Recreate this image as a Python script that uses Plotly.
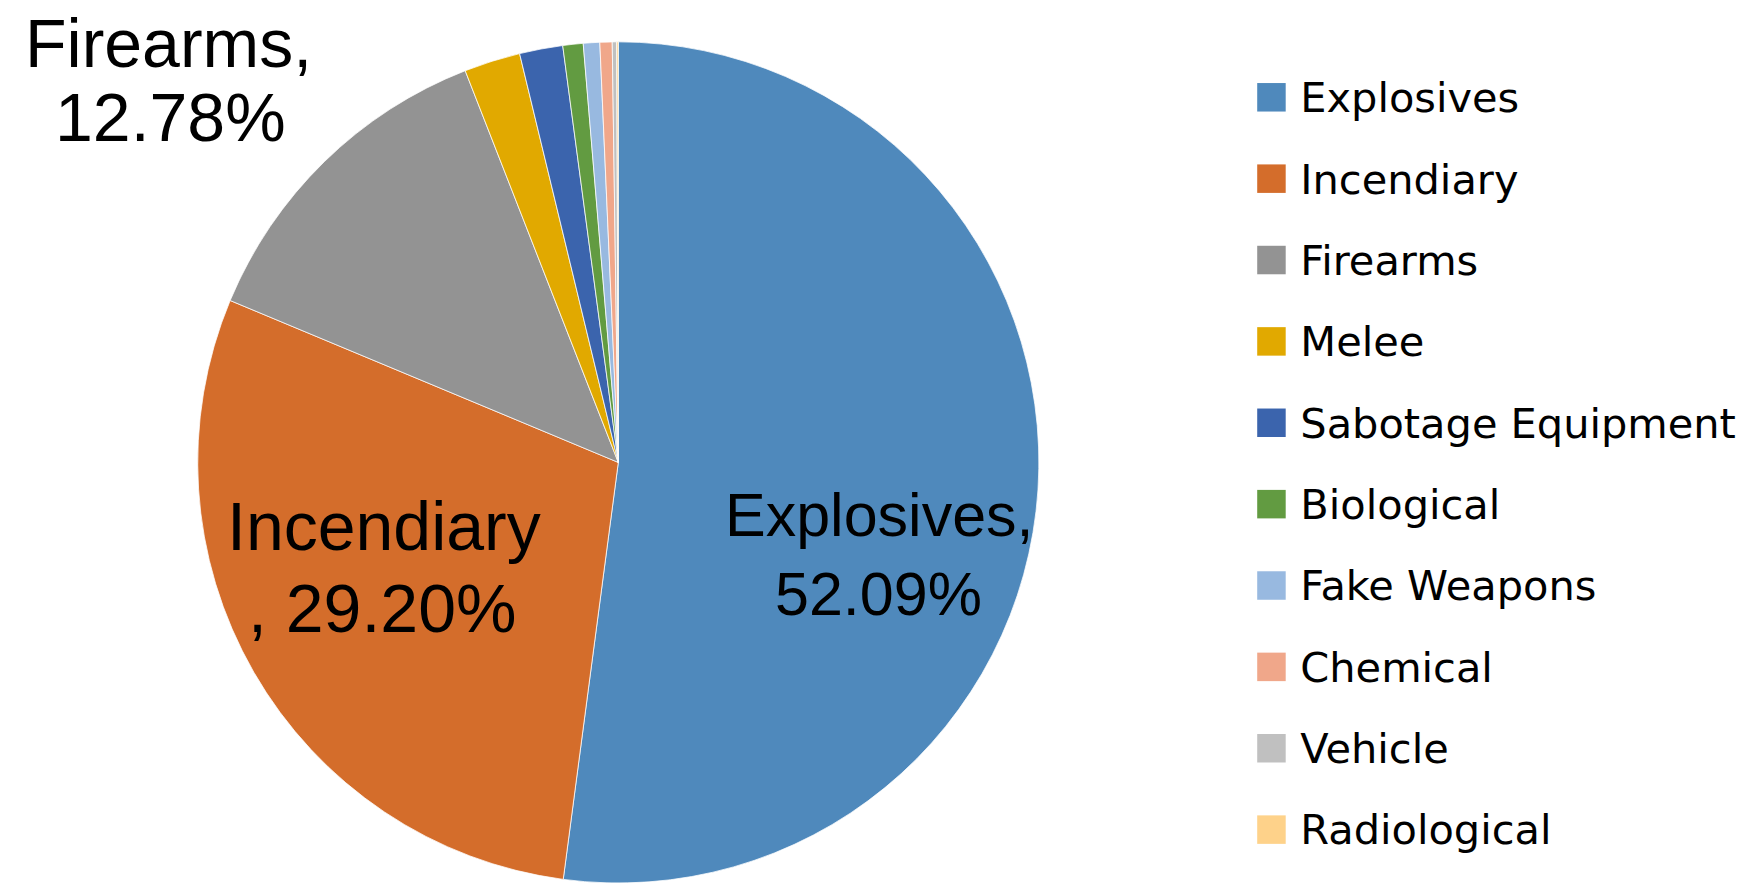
import plotly.graph_objects as go

# Attack weapon categories and their share of incidents (%)
weapons = ["Explosives", "Incendiary", "Firearms", "Melee", "Sabotage Equipment",
           "Biological", "Fake Weapons", "Chemical", "Vehicle", "Radiological"]
shares = [52.09, 29.20, 12.78, 2.16, 1.66, 0.78, 0.63, 0.47, 0.17, 0.06]
colors = ["#4F89BC", "#D46D2B", "#939393", "#E1A900", "#3B64AD",
          "#629B41", "#98B9E0", "#F0A78A", "#C0C0C0", "#FED28A"]

W, H = 1753, 883
total = sum(shares)

fig = go.Figure()

fig.add_trace(go.Pie(
    labels=weapons,
    values=shares,
    sort=False,
    direction="clockwise",
    rotation=0,
    marker=dict(colors=colors, line=dict(color="rgba(255,255,255,0.75)", width=1)),
    textinfo="none",
    showlegend=False,
    domain=dict(x=[0.11278, 0.59264], y=[0.0, 0.9526]),
))

# Legend column: colour swatches and names on their own category axes
fig.add_trace(go.Scatter(
    x=[0] * len(weapons), y=weapons, mode="markers",
    marker=dict(symbol="square", size=28.5, color=colors, line=dict(width=0)),
    cliponaxis=False, showlegend=False, hoverinfo="skip",
))
fig.add_trace(go.Scatter(
    x=[0.06] * len(weapons), y=weapons, mode="text", text=weapons,
    textposition="middle right",
    textfont=dict(family="DejaVu Sans", size=41.5, color="#000000"),
    cliponaxis=False, showlegend=False, hoverinfo="skip",
    yaxis="y2",
))


def pct(name):
    return f"{shares[weapons.index(name)] / total * 100:.2f}%"


# Slice labels (two lines each), centre x and text-middle y in pixels
label_font = dict(family="Liberation Sans, Arial", size=68, color="#000000")
expl_font = dict(family="Liberation Sans, Arial", size=61, color="#000000")
slice_labels = [
    ("Firearms,", 168, 43, label_font),
    (pct("Firearms"), 170, 117, label_font),
    ("Incendiary", 384, 526, label_font),
    (", " + pct("Incendiary"), 382, 608, label_font),
    ("Explosives,", 880, 515, expl_font),
    (pct("Explosives"), 878, 594, expl_font),
]
annotations = [
    dict(text=t, x=px / W, y=1 - py / H, xref="paper", yref="paper",
         xanchor="center", yanchor="middle", showarrow=False, font=f, borderpad=0)
    for t, px, py, f in slice_labels
]

cat_axis = dict(type="category", categoryarray=weapons,
                range=[len(weapons) - 0.5, -0.5], visible=False, fixedrange=True)

fig.update_layout(
    width=W, height=H,
    margin=dict(l=0, r=0, t=0, b=0),
    paper_bgcolor="white", plot_bgcolor="rgba(0,0,0,0)",
    xaxis=dict(domain=[0.7253, 1.0], range=[0, 1], visible=False, fixedrange=True),
    yaxis=dict(domain=[0.01438, 0.9359], **cat_axis),
    yaxis2=dict(domain=[0.00928, 0.9308], anchor="x", **cat_axis),
    annotations=annotations,
    showlegend=False,
)

fig.write_html("out.html")
